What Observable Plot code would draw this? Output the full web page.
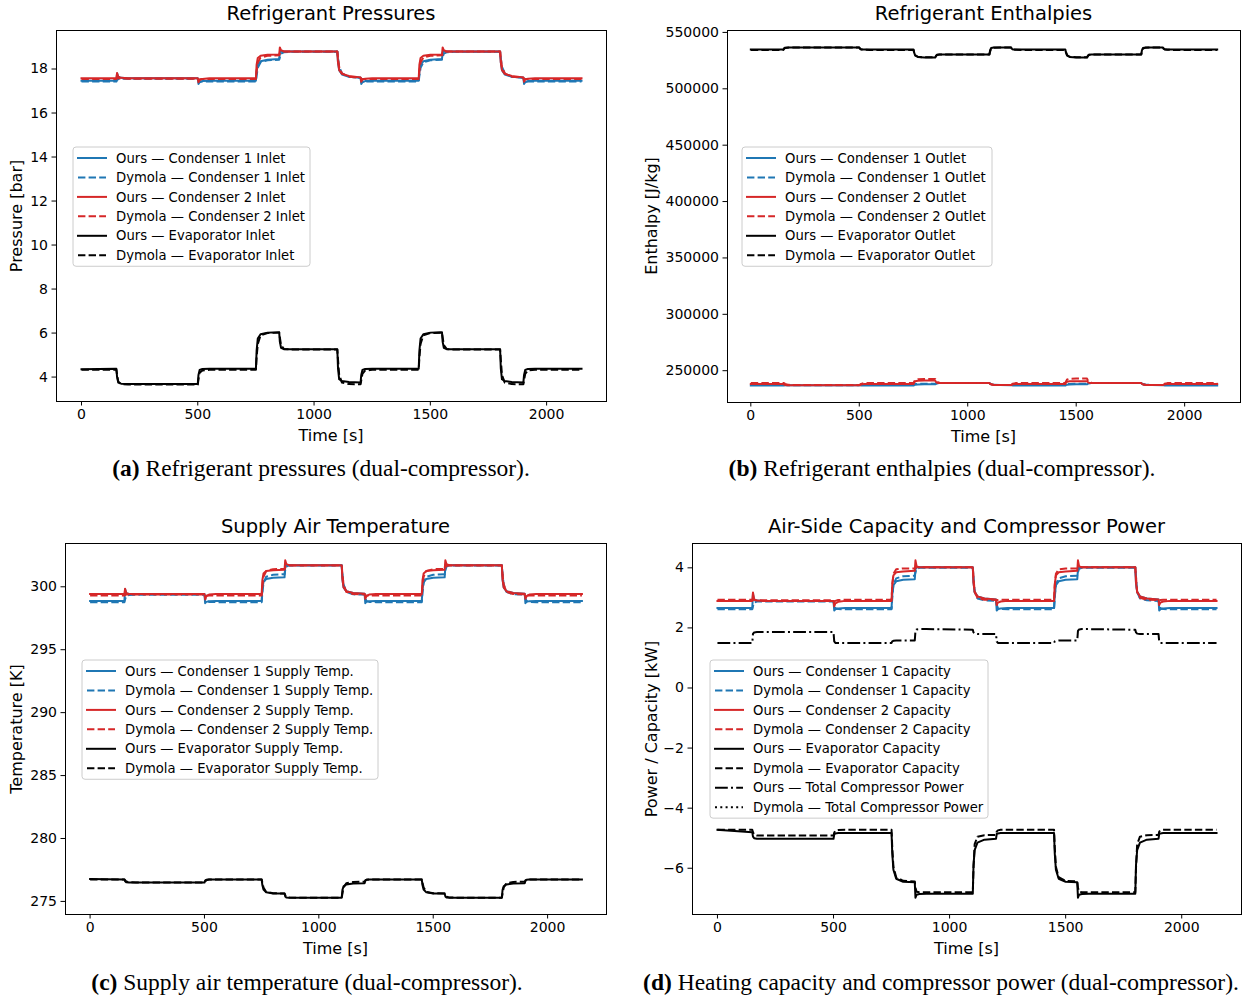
<!DOCTYPE html>
<html><head><meta charset="utf-8">
<script src="https://cdn.jsdelivr.net/npm/d3@7"></script>
<script src="https://cdn.jsdelivr.net/npm/@observablehq/plot@0.6"></script>
<style>
body{margin:0;background:#fff;}
#page{position:relative;width:1252px;height:1001px;overflow:hidden;font-family:"DejaVu Sans",sans-serif;color:#000;background:#fff;}
.title,.xlabel,.caption{position:absolute;white-space:nowrap;transform:translate(-50%,-50%);}
.title{font-size:19.5px;}
.xlabel{font-size:16px;}
.ylabel{position:absolute;white-space:nowrap;font-size:16px;transform:translate(-50%,-50%) rotate(-90deg);}
.caption{font-family:"Liberation Serif",serif;font-size:23.5px;}
.legend{position:absolute;}
</style>
</head><body><div id="page"></div>
<script>
// ---------- shared time grid [s] ----------
const T = [0,
150,153,158,170,200,
500,503,508,520,550,
750,753,758,770,800,
850,853,858,870,900,
1100,1103,1108,1120,1150,
1200,1203,1208,1220,1250,
1450,1453,1458,1470,1500,
1550,1553,1558,1570,1600,
1800,1803,1808,1820,1850,
1900,1903,1908,1920,1950,
2150];
const xTicks = [0, 500, 1000, 1500, 2000];

// ---------- (a) refrigerant pressures [bar] ----------
const pOursC1 = [17.47,
17.47,17.8,17.65,17.6,17.58,
17.58,17.32,17.4,17.45,17.47,
17.47,17.9,18.2,18.35,18.42,
18.45,18.75,18.8,18.8,18.8,
18.8,18.3,17.95,17.75,17.65,
17.6,17.32,17.4,17.45,17.47,
17.47,17.9,18.2,18.35,18.42,
18.45,18.75,18.8,18.8,18.8,
18.8,18.3,17.95,17.75,17.65,
17.6,17.32,17.4,17.45,17.47,
17.47];
const pDymC1 = [17.43,
17.43,17.5,17.54,17.56,17.56,
17.56,17.48,17.44,17.43,17.43,
17.43,17.7,18.05,18.3,18.4,
18.42,18.55,18.7,18.76,18.78,
18.78,18.5,18.1,17.8,17.65,
17.6,17.5,17.45,17.43,17.43,
17.43,17.7,18.05,18.3,18.4,
18.42,18.55,18.7,18.76,18.78,
18.78,18.5,18.1,17.8,17.65,
17.6,17.5,17.45,17.43,17.43,
17.43];
const pOursC2 = [17.58,
17.58,17.82,17.65,17.6,17.58,
17.58,17.4,17.5,17.55,17.58,
17.58,18.2,18.5,18.6,18.65,
18.66,18.98,18.85,18.8,18.8,
18.8,18.3,17.95,17.78,17.68,
17.62,17.42,17.52,17.56,17.58,
17.58,18.2,18.5,18.6,18.65,
18.66,18.98,18.85,18.8,18.8,
18.8,18.3,17.95,17.78,17.68,
17.62,17.42,17.52,17.56,17.58,
17.58];
const pDymC2 = [17.55,
17.55,17.58,17.58,17.57,17.56,
17.56,17.5,17.53,17.55,17.55,
17.55,17.9,18.3,18.52,18.6,
18.62,18.7,18.77,18.8,18.8,
18.8,18.5,18.1,17.8,17.65,
17.6,17.55,17.55,17.55,17.55,
17.55,17.9,18.3,18.52,18.6,
18.62,18.7,18.77,18.8,18.8,
18.8,18.5,18.1,17.8,17.65,
17.6,17.55,17.55,17.55,17.55,
17.55];
const pOursEvap = [4.36,
4.38,4.0,3.75,3.7,3.69,
3.69,4.1,4.32,4.37,4.38,
4.38,5.2,5.75,5.95,6.02,
6.04,5.6,5.33,5.27,5.26,
5.26,4.4,3.9,3.82,3.78,
3.75,4.1,4.32,4.37,4.38,
4.38,5.2,5.75,5.95,6.02,
6.04,5.6,5.33,5.27,5.26,
5.26,4.4,3.9,3.82,3.78,
3.75,4.1,4.32,4.37,4.38,
4.38];
const pDymEvap = [4.33,
4.33,4.1,3.8,3.68,3.66,
3.66,3.9,4.2,4.3,4.33,
4.33,4.9,5.5,5.9,6.0,
6.02,5.8,5.45,5.28,5.25,
5.25,4.8,4.1,3.75,3.68,
3.67,3.85,4.15,4.3,4.33,
4.33,4.9,5.5,5.9,6.0,
6.02,5.8,5.45,5.28,5.25,
5.25,4.8,4.1,3.75,3.68,
3.67,3.85,4.15,4.3,4.33,
4.33];
const pTicks = [4, 6, 8, 10, 12, 14, 16, 18];

// ---------- (b) refrigerant enthalpies [J/kg] ----------
const hOursC1 = [236800,
236800,236900,237000,237100,237100,
237100,237000,236900,236800,236800,
236800,237200,237600,237800,237900,
237900,238300,238800,239000,239000,
239000,238500,237900,237500,237300,
237200,237000,236900,236800,236800,
236800,237200,237600,237800,237900,
237900,238300,238800,239000,239000,
239000,238500,237900,237500,237300,
237200,237000,236900,236800,236800,
236800];
const hDymC1 = [237500,
237500,237400,237300,237200,237200,
237200,237300,237400,237500,237500,
237500,237800,238100,238300,238400,
238400,238600,238900,239000,239000,
239000,238600,238000,237600,237400,
237300,237400,237500,237500,237500,
237500,237800,238100,238300,238400,
238400,238600,238900,239000,239000,
239000,238600,238000,237600,237400,
237300,237400,237500,237500,237500,
237500];
const hOursC2 = [238200,
238200,237800,237400,237200,237100,
237100,237400,237800,238100,238200,
238200,239500,240600,241100,241200,
241200,240200,239400,239100,239100,
239100,238400,237800,237400,237300,
237300,237600,237900,238100,238200,
238200,239500,240300,240600,240700,
240700,240000,239400,239100,239100,
239100,238400,237800,237400,237300,
237300,237600,237900,238100,238200,
238200];
const hDymC2 = [239200,
239200,239000,238300,237500,237300,
237300,237600,238300,238900,239100,
239100,240300,241800,242500,242600,
242600,241500,240000,239300,239100,
239100,238600,238000,237500,237300,
237300,237800,238500,239000,239100,
239100,240500,242200,242900,243000,
243000,241800,240200,239300,239100,
239100,238600,238000,237500,237300,
237300,237800,238500,239000,239100,
239100];
const hOursEvap = [534800,
534800,535800,536500,536700,536700,
536700,535500,534900,534800,534800,
534800,532000,529500,528200,527800,
527800,529000,530200,530500,530500,
530500,534000,536200,536700,536700,
536700,535500,534900,534800,534800,
534800,532000,529500,528200,527800,
527800,529000,530200,530500,530500,
530500,534000,536200,536700,536700,
536700,535500,534900,534800,534800,
534800];
const hDymEvap = [534500,
534500,535300,536100,536500,536600,
536600,535800,535000,534600,534500,
534500,532600,530000,528400,527900,
527900,528700,529900,530400,530500,
530500,533000,535600,536500,536600,
536600,535800,535000,534600,534500,
534500,532600,530000,528400,527900,
527900,528700,529900,530400,530500,
530500,533000,535600,536500,536600,
536600,535800,535000,534600,534500,
534500];
const hTicks = [250000, 300000, 350000, 400000, 450000, 500000, 550000];

// ---------- (c) supply air temperature [K] ----------
const tOursC1 = [298.88,
298.88,299.8,299.5,299.43,299.42,
299.42,298.7,298.8,298.86,298.88,
298.88,299.8,300.4,300.62,300.72,
300.75,301.6,301.72,301.72,301.72,
301.72,300.6,299.95,299.65,299.5,
299.45,298.7,298.8,298.86,298.88,
298.88,299.8,300.4,300.62,300.72,
300.75,301.6,301.72,301.72,301.72,
301.72,300.6,299.95,299.65,299.5,
299.45,298.7,298.8,298.86,298.88,
298.88];
const tDymC1 = [298.78,
298.78,299.0,299.25,299.35,299.36,
299.36,299.1,298.88,298.8,298.78,
298.78,299.5,300.3,300.8,300.95,
301.0,301.3,301.6,301.7,301.7,
301.7,301.0,300.2,299.6,299.4,
299.38,299.1,298.88,298.8,298.78,
298.78,299.5,300.3,300.8,300.95,
301.0,301.3,301.6,301.7,301.7,
301.7,301.0,300.2,299.6,299.4,
299.38,299.1,298.88,298.8,298.78,
298.78];
const tOursC2 = [299.42,
299.42,299.85,299.5,299.43,299.42,
299.42,299.0,299.25,299.38,299.42,
299.42,300.5,301.05,301.25,301.32,
301.35,302.1,301.8,301.72,301.72,
301.72,300.6,299.95,299.65,299.5,
299.45,299.05,299.25,299.38,299.42,
299.42,300.5,301.05,301.25,301.32,
301.35,302.1,301.8,301.72,301.72,
301.72,300.6,299.95,299.65,299.5,
299.45,299.05,299.25,299.38,299.42,
299.42];
const tDymC2 = [299.3,
299.3,299.35,299.38,299.38,299.38,
299.38,299.3,299.28,299.3,299.3,
299.3,300.0,300.8,301.25,301.4,
301.42,301.55,301.65,301.7,301.7,
301.7,301.0,300.2,299.6,299.42,
299.4,299.32,299.3,299.3,299.3,
299.3,300.0,300.8,301.25,301.4,
301.42,301.55,301.65,301.7,301.7,
301.7,301.0,300.2,299.6,299.42,
299.4,299.32,299.3,299.3,299.3,
299.3];
const tOursEvap = [276.78,
276.75,276.6,276.52,276.5,276.5,
276.5,276.65,276.72,276.75,276.75,
276.75,276.3,275.95,275.72,275.63,
275.62,275.4,275.32,275.3,275.3,
275.3,275.9,276.2,276.35,276.42,
276.45,276.65,276.72,276.75,276.75,
276.75,276.3,275.95,275.72,275.63,
275.62,275.4,275.32,275.3,275.3,
275.3,275.9,276.2,276.35,276.42,
276.45,276.65,276.72,276.75,276.75,
276.75];
const tDymEvap = [276.75,
276.75,276.68,276.58,276.52,276.5,
276.5,276.58,276.68,276.74,276.75,
276.75,276.5,276.1,275.75,275.65,
275.63,275.5,275.38,275.32,275.3,
275.3,275.6,276.1,276.45,276.55,
276.56,276.65,276.72,276.75,276.75,
276.75,276.5,276.1,275.75,275.65,
275.63,275.5,275.38,275.32,275.3,
275.3,275.6,276.1,276.45,276.55,
276.56,276.65,276.72,276.75,276.75,
276.75];
const tTicks = [275, 280, 285, 290, 295, 300];

// ---------- (d) capacity and compressor power [kW] ----------
const qOursC1 = [2.66,
2.66,3.12,2.95,2.91,2.9,
2.9,2.58,2.62,2.65,2.66,
2.66,3.1,3.42,3.55,3.6,
3.62,3.95,4.02,4.02,4.02,
4.02,3.5,3.2,3.05,2.98,
2.95,2.58,2.62,2.65,2.66,
2.66,3.1,3.42,3.55,3.6,
3.62,3.95,4.02,4.02,4.02,
4.02,3.5,3.2,3.05,2.98,
2.95,2.58,2.62,2.65,2.66,
2.66];
const qDymC1 = [2.62,
2.62,2.72,2.84,2.88,2.88,
2.88,2.78,2.66,2.63,2.62,
2.62,3.0,3.45,3.65,3.72,
3.74,3.85,3.97,4.0,4.0,
4.0,3.7,3.2,2.98,2.92,
2.9,2.78,2.66,2.63,2.62,
2.62,3.0,3.45,3.65,3.72,
3.74,3.85,3.97,4.0,4.0,
4.0,3.7,3.2,2.98,2.92,
2.9,2.78,2.66,2.63,2.62,
2.62];
const qOursC2 = [2.9,
2.9,3.18,2.95,2.91,2.9,
2.9,2.72,2.82,2.87,2.9,
2.9,3.45,3.75,3.85,3.88,
3.9,4.25,4.05,4.02,4.02,
4.02,3.5,3.2,3.05,2.98,
2.95,2.76,2.84,2.88,2.9,
2.9,3.45,3.75,3.85,3.88,
3.9,4.25,4.05,4.02,4.02,
4.02,3.5,3.2,3.05,2.98,
2.95,2.76,2.84,2.88,2.9,
2.9];
const qDymC2 = [2.94,
2.94,2.94,2.93,2.92,2.92,
2.92,2.88,2.9,2.93,2.94,
2.94,3.4,3.8,3.95,3.98,
3.98,4.0,4.02,4.02,4.02,
4.02,3.7,3.2,3.0,2.94,
2.93,2.92,2.93,2.94,2.94,
2.94,3.4,3.8,3.95,3.98,
3.98,4.0,4.02,4.02,4.02,
4.02,3.7,3.2,3.0,2.94,
2.93,2.92,2.93,2.94,2.94,
2.94];
const qOursEvap = [-4.72,
-4.8,-4.95,-5.0,-5.02,-5.02,
-5.02,-4.88,-4.84,-4.83,-4.83,
-4.83,-5.5,-6.05,-6.35,-6.45,
-6.47,-6.98,-6.88,-6.86,-6.85,
-6.85,-5.9,-5.4,-5.15,-5.05,
-5.02,-4.86,-4.84,-4.83,-4.83,
-4.83,-5.5,-6.05,-6.35,-6.45,
-6.47,-6.98,-6.88,-6.86,-6.85,
-6.85,-5.9,-5.4,-5.15,-5.05,
-5.02,-4.86,-4.84,-4.83,-4.83,
-4.83];
const qDymEvap = [-4.72,
-4.72,-4.8,-4.88,-4.91,-4.91,
-4.91,-4.82,-4.75,-4.73,-4.72,
-4.72,-5.3,-5.95,-6.3,-6.42,
-6.44,-6.65,-6.78,-6.8,-6.8,
-6.8,-6.0,-5.2,-4.95,-4.9,
-4.89,-4.78,-4.74,-4.72,-4.72,
-4.72,-5.3,-5.95,-6.3,-6.42,
-6.44,-6.65,-6.78,-6.8,-6.8,
-6.8,-6.0,-5.2,-4.95,-4.9,
-4.89,-4.78,-4.74,-4.72,-4.72,
-4.72];
const powOurs = [1.5,
1.5,1.8,1.85,1.86,1.86,
1.86,1.55,1.5,1.5,1.5,
1.5,1.55,1.57,1.58,1.58,
1.58,1.9,1.95,1.96,1.96,
1.94,1.85,1.81,1.8,1.8,
1.8,1.55,1.5,1.5,1.5,
1.5,1.55,1.57,1.58,1.58,
1.58,1.9,1.95,1.96,1.96,
1.94,1.85,1.81,1.8,1.8,
1.8,1.55,1.5,1.5,1.5,
1.5];
const powDym = []; // Dymola compressor power: legend entry only, no visible trace in the figure
const qTicks = [-6, -4, -2, 0, 2, 4];

// ---------- styles ----------
const BLUE = "#1f77b4", RED = "#d62728", BLACK = "#000000";
const SOLID = null, DASH = "7.4,3.2", DASHDOT = "12.8,3.2,2,3.2", DOT = "2,3.3";

const page = document.getElementById("page");
function addDiv(cls, x, y, html) {
  const d = document.createElement("div");
  d.className = cls; d.style.left = x + "px"; d.style.top = y + "px"; d.innerHTML = html;
  page.appendChild(d); return d;
}
const fmtMinus = d => d < 0 ? "\u2212" + Math.abs(d) : String(d);

function drawPanel(cfg) {
  const f = cfg.frame, pad = {l: 80, r: 14, t: 6, b: 30};
  const width = f.r - f.l + pad.l + pad.r, height = f.b - f.t + pad.t + pad.b;
  const marks = [];
  for (const s of cfg.series) {
    if (!s.values.length) continue;
    const rows = s.values.map((v, i) => ({t: T[i], v}));
    marks.push(Plot.line(rows, {x: "t", y: "v", stroke: s.color, strokeWidth: 2,
      strokeDasharray: s.dash, strokeLinecap: s.dash ? "butt" : "square", strokeLinejoin: "round"}));
  }
  marks.push(Plot.frame({stroke: "#000", strokeWidth: 1}));
  marks.push(Plot.axisX({ticks: xTicks, tickSize: 4.5, tickPadding: 3, label: null, tickFormat: d => String(d)}));
  marks.push(Plot.axisY({ticks: cfg.yTicks, tickSize: 4.5, tickPadding: 4, label: null, tickFormat: fmtMinus}));
  const svg = Plot.plot({
    width, height, marginLeft: pad.l, marginRight: pad.r, marginTop: pad.t, marginBottom: pad.b,
    style: {fontFamily: "DejaVu Sans", fontSize: "14px", color: "#000", background: "transparent", overflow: "visible"},
    x: {domain: [-107.5, 2257.5]},
    y: {domain: cfg.yDomain},
    marks
  });
  svg.style.position = "absolute";
  svg.style.left = (f.l - pad.l) + "px";
  svg.style.top = (f.t - pad.t) + "px";
  page.appendChild(svg);
  const cx = (f.l + f.r) / 2;
  addDiv("title", cx, f.t - 17, cfg.title);
  addDiv("xlabel", cx, f.b + 34, "Time [s]");
  addDiv("ylabel", cfg.ylabelX, (f.t + f.b) / 2, cfg.ylabel);
  // legend
  const L = cfg.legend, n = cfg.series.length, rowH = 19.45;
  const lh = 22 + (n - 1) * rowH;
  const lg = d3.create("svg").attr("width", L.w + 2).attr("height", lh + 2)
    .style("position", "absolute").style("left", (L.x - 1) + "px").style("top", (L.y - 1) + "px");
  lg.append("rect").attr("x", 1).attr("y", 1).attr("width", L.w).attr("height", lh)
    .attr("rx", 3).attr("fill", "rgba(255,255,255,0.8)").attr("stroke", "#cccccc").attr("stroke-width", 1);
  cfg.series.forEach((s, i) => {
    const cy = 1 + 11 + i * rowH;
    lg.append("line").attr("x1", 6).attr("x2", 34).attr("y1", cy).attr("y2", cy)
      .attr("stroke", s.color).attr("stroke-width", 2)
      .attr("stroke-dasharray", s.dash).attr("stroke-linecap", s.dash ? "butt" : "square");
    lg.append("text").attr("x", 44).attr("y", cy).attr("dy", "0.35em")
      .attr("font-family", "DejaVu Sans").attr("font-size", 13.2).attr("fill", "#000").text(s.name);
  });
  page.appendChild(lg.node());
  addDiv("caption", cfg.caption.x, cfg.caption.y, cfg.caption.html);
}

drawPanel({
  frame: {l: 56, r: 606, t: 30, b: 401},
  yDomain: [2.89, 19.75], yTicks: pTicks,
  title: "Refrigerant Pressures", ylabel: "Pressure [bar]", ylabelX: 16,
  legend: {x: 73, y: 147, w: 237},
  caption: {x: 321, y: 468, html: "<b>(a)</b> Refrigerant pressures (dual-compressor)."},
  series: [
    {name: "Ours \u2014 Condenser 1 Inlet", values: pOursC1, color: BLUE, dash: SOLID},
    {name: "Dymola \u2014 Condenser 1 Inlet", values: pDymC1, color: BLUE, dash: DASH},
    {name: "Ours \u2014 Condenser 2 Inlet", values: pOursC2, color: RED, dash: SOLID},
    {name: "Dymola \u2014 Condenser 2 Inlet", values: pDymC2, color: RED, dash: DASH},
    {name: "Ours \u2014 Evaporator Inlet", values: pOursEvap, color: BLACK, dash: SOLID},
    {name: "Dymola \u2014 Evaporator Inlet", values: pDymEvap, color: BLACK, dash: DASH}
  ]
});
drawPanel({
  frame: {l: 727, r: 1240, t: 30, b: 402},
  yDomain: [221800, 551700], yTicks: hTicks,
  title: "Refrigerant Enthalpies", ylabel: "Enthalpy [J/kg]", ylabelX: 651,
  legend: {x: 742, y: 147, w: 250},
  caption: {x: 942, y: 468, html: "<b>(b)</b> Refrigerant enthalpies (dual-compressor)."},
  series: [
    {name: "Ours \u2014 Condenser 1 Outlet", values: hOursC1, color: BLUE, dash: SOLID},
    {name: "Dymola \u2014 Condenser 1 Outlet", values: hDymC1, color: BLUE, dash: DASH},
    {name: "Ours \u2014 Condenser 2 Outlet", values: hOursC2, color: RED, dash: SOLID},
    {name: "Dymola \u2014 Condenser 2 Outlet", values: hDymC2, color: RED, dash: DASH},
    {name: "Ours \u2014 Evaporator Outlet", values: hOursEvap, color: BLACK, dash: SOLID},
    {name: "Dymola \u2014 Evaporator Outlet", values: hDymEvap, color: BLACK, dash: DASH}
  ]
});
drawPanel({
  frame: {l: 65, r: 606, t: 543, b: 914},
  yDomain: [273.96, 303.44], yTicks: tTicks,
  title: "Supply Air Temperature", ylabel: "Temperature [K]", ylabelX: 16,
  legend: {x: 82, y: 660, w: 296},
  caption: {x: 307, y: 982, html: "<b>(c)</b> Supply air temperature (dual-compressor)."},
  series: [
    {name: "Ours \u2014 Condenser 1 Supply Temp.", values: tOursC1, color: BLUE, dash: SOLID},
    {name: "Dymola \u2014 Condenser 1 Supply Temp.", values: tDymC1, color: BLUE, dash: DASH},
    {name: "Ours \u2014 Condenser 2 Supply Temp.", values: tOursC2, color: RED, dash: SOLID},
    {name: "Dymola \u2014 Condenser 2 Supply Temp.", values: tDymC2, color: RED, dash: DASH},
    {name: "Ours \u2014 Evaporator Supply Temp.", values: tOursEvap, color: BLACK, dash: SOLID},
    {name: "Dymola \u2014 Evaporator Supply Temp.", values: tDymEvap, color: BLACK, dash: DASH}
  ]
});
drawPanel({
  frame: {l: 692, r: 1241, t: 543, b: 914},
  yDomain: [-7.54, 4.81], yTicks: qTicks,
  title: "Air-Side Capacity and Compressor Power", ylabel: "Power / Capacity [kW]", ylabelX: 651,
  legend: {x: 710, y: 660, w: 278},
  caption: {x: 941, y: 982, html: "<b>(d)</b> Heating capacity and compressor power (dual-compressor)."},
  series: [
    {name: "Ours \u2014 Condenser 1 Capacity", values: qOursC1, color: BLUE, dash: SOLID},
    {name: "Dymola \u2014 Condenser 1 Capacity", values: qDymC1, color: BLUE, dash: DASH},
    {name: "Ours \u2014 Condenser 2 Capacity", values: qOursC2, color: RED, dash: SOLID},
    {name: "Dymola \u2014 Condenser 2 Capacity", values: qDymC2, color: RED, dash: DASH},
    {name: "Ours \u2014 Evaporator Capacity", values: qOursEvap, color: BLACK, dash: SOLID},
    {name: "Dymola \u2014 Evaporator Capacity", values: qDymEvap, color: BLACK, dash: DASH},
    {name: "Ours \u2014 Total Compressor Power", values: powOurs, color: BLACK, dash: DASHDOT},
    {name: "Dymola \u2014 Total Compressor Power", values: powDym, color: BLACK, dash: DOT}
  ]
});
</script>
</body></html>
